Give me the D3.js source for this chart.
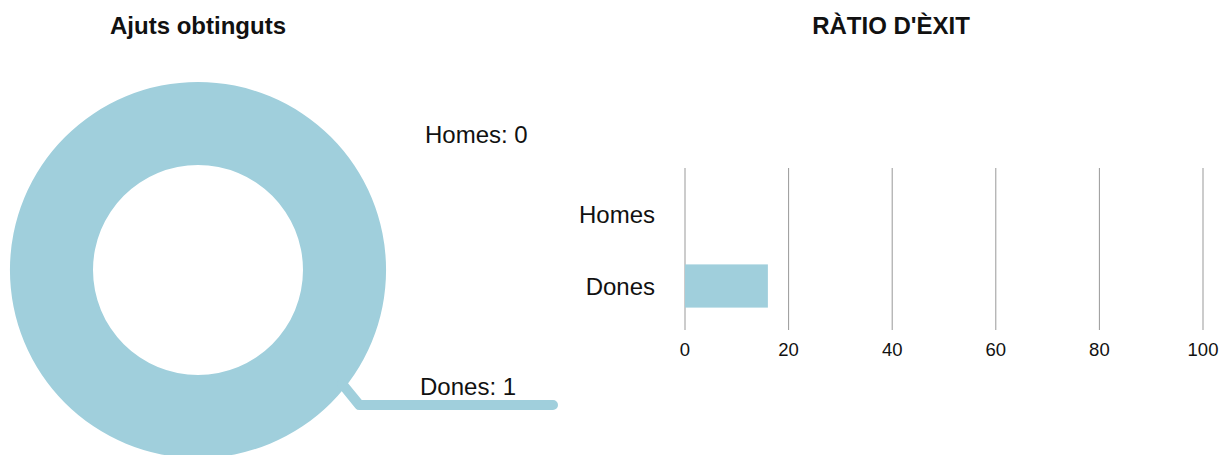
<!DOCTYPE html>
<html><head><meta charset="utf-8">
<script src="https://cdn.jsdelivr.net/npm/d3@7"></script>
<style>
html,body{margin:0;padding:0;background:#fff;}
svg{display:block;font-family:"Liberation Sans",Arial,Helvetica,sans-serif;}
</style></head>
<body>
<svg id="chart" width="1219" height="455"></svg>
<script>
const pieTitle = "Ajuts obtinguts";
const barTitle = "RÀTIO D'ÈXIT";
const categories = ["Homes", "Dones"];
const ajuts = [0, 1];
const ratio = [0, 16];
const xTicks = [0, 20, 40, 60, 80, 100];
const color = "#a0cfdc";

const svg = d3.select("#chart");

// Titles
svg.append("text").attr("x", 198).attr("y", 34).attr("text-anchor", "middle")
  .attr("font-weight", "bold").attr("font-size", 24).attr("fill", "#111").text(pieTitle);
svg.append("text").attr("x", 891).attr("y", 34).attr("text-anchor", "middle")
  .attr("font-weight", "bold").attr("font-size", 24).attr("fill", "#111").text(barTitle);

// Donut
const cx = 198, cy = 270, rOuter = 188, rInner = 105;
const pieData = d3.pie().sort(null)(ajuts).map((a, i) => Object.assign(a, {cat: categories[i]}));
const arc = d3.arc().innerRadius(rInner).outerRadius(rOuter);
const pg = svg.append("g").attr("transform", `translate(${cx},${cy})`);
pg.selectAll("path.slice").data(pieData).join("path").attr("class", "slice")
  .attr("d", arc).attr("fill", color);

// Labels and leader line
const labelYs = {Homes: 143 - cy, Dones: 395 - cy};
const labelXs = {Homes: 425 - cx, Dones: 420 - cx};
pieData.forEach(d => {
  pg.append("text").attr("x", labelXs[d.cat]).attr("y", labelYs[d.cat])
    .attr("font-size", 24).attr("fill", "#111").text(`${d.cat}: ${d.value}`);
  if (d.value > 0) {
    const ang = 2.24; // leader anchor angle (radians from top, clockwise)
    const p0 = [Math.sin(ang) * (rOuter - 4), -Math.cos(ang) * (rOuter - 4)];
    const p1 = [p0[0] + 17, labelYs[d.cat] + 10];
    const p2 = [553 - cx, p1[1]];
    pg.append("path").attr("d", d3.line()([p0, p1, p2]))
      .attr("fill", "none").attr("stroke", color).attr("stroke-width", 10)
      .attr("stroke-linecap", "round").attr("stroke-linejoin", "round");
  }
});

// Bar chart
const x = d3.scaleLinear().domain([0, 100]).range([685, 1203]);
const y = d3.scaleBand().domain(categories).range([178, 322]).paddingInner(0.4).paddingOuter(0.2);
const bg = svg.append("g");
bg.selectAll("line.grid").data(xTicks).join("line").attr("class", "grid")
  .attr("x1", d => x(d)).attr("x2", d => x(d)).attr("y1", 168).attr("y2", 330)
  .attr("stroke", "#999").attr("stroke-width", 1);
bg.selectAll("rect.bar").data(categories.map((c, i) => ({c, v: ratio[i]}))).join("rect").attr("class", "bar")
  .attr("x", x(0)).attr("y", d => y(d.c)).attr("width", d => x(d.v) - x(0)).attr("height", y.bandwidth())
  .attr("fill", color);
bg.selectAll("text.tick").data(xTicks).join("text").attr("class", "tick")
  .attr("x", d => x(d)).attr("y", 356).attr("text-anchor", "middle")
  .attr("font-size", 18.5).attr("fill", "#111").text(d => d);
bg.selectAll("text.cat").data(categories).join("text").attr("class", "cat")
  .attr("x", 655).attr("y", d => y(d) + y.bandwidth() / 2 + 9).attr("text-anchor", "end")
  .attr("font-size", 24).attr("fill", "#111").text(d => d);
</script>
</body></html>
